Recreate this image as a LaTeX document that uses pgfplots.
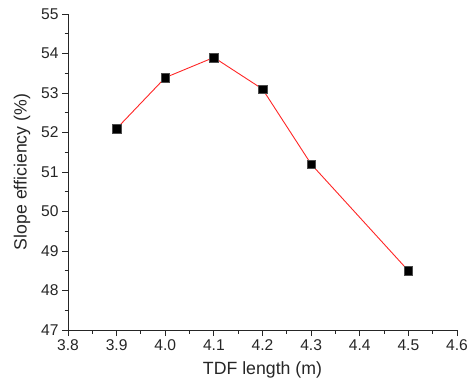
\documentclass[border=0pt]{standalone}
\usepackage{pgfplots}
\pgfplotsset{compat=1.18}
\usepackage{fontspec}
\setmainfont{Liberation Sans}
\begin{document}
\begin{tikzpicture}[x=1pt,y=1pt]
\path[use as bounding box] (0,0) rectangle (470,380);
\begin{axis}[
  at={(68pt,50pt)}, anchor=south west,
  scale only axis, width=389pt, height=316pt,
  xmin=3.8, xmax=4.6, ymin=47, ymax=55,
  xtick={3.8,3.9,...,4.61}, ytick={47,48,...,55},
  minor x tick num=1, minor y tick num=1,
  axis x line*=bottom, axis y line*=left,
  axis line style={black!85, line width=1pt, -},
  tick align=outside,
  major tick length=6pt, minor tick length=3.5pt,
  every tick/.style={black!85, line width=0.9pt},
  tick label style={font=\fontsize{15.6}{18}\selectfont, text=black!85},
  /pgf/number format/assume math mode=true,
  xticklabel style={/pgf/number format/fixed, /pgf/number format/fixed zerofill, /pgf/number format/precision=1},
  label style={font=\fontsize{17.7}{21}\selectfont, text=black!85},
  xlabel={TDF length (m)},
  ylabel={Slope efficiency (\%)},
  xlabel style={at={(axis description cs:0.5,-0.127)}, anchor=center},
  ylabel style={at={(axis description cs:-0.118,0.5)}, anchor=center},
  clip=false,
]
\addplot[red!85!white, line width=0.9pt, mark=square*, mark size=4.3pt,
  mark options={fill=black, draw=black!70, line width=0.5pt, solid}]
  coordinates {(3.9,52.1) (4.0,53.39) (4.1,53.9) (4.2,53.1) (4.3,51.2) (4.5,48.5)};
\end{axis}
\end{tikzpicture}
\end{document}
